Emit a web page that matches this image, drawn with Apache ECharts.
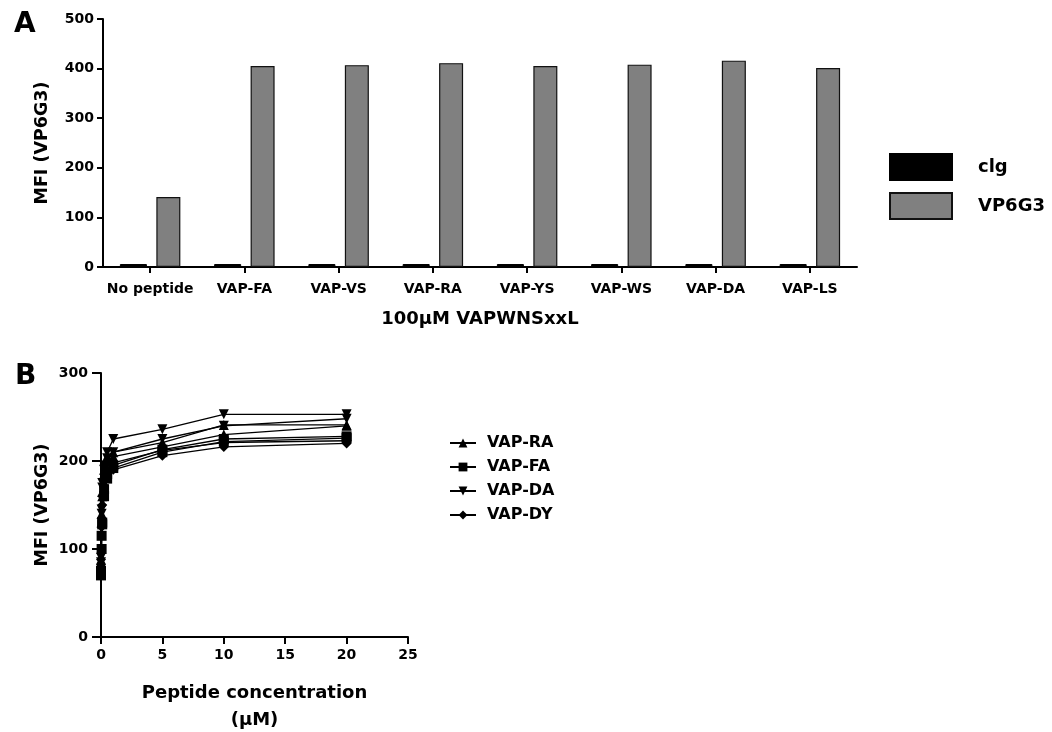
<!DOCTYPE html>
<html>
<head>
<meta charset="utf-8">
<script src="https://cdn.jsdelivr.net/npm/echarts@6/dist/echarts.min.js"></script>
<style>
html,body{margin:0;padding:0;background:#fff;}
#c{width:1052px;height:732px;}
</style>
</head>
<body>
<div id="c"></div>
<script>
// Panel A data
const categoriesA = ['No peptide','VAP-FA','VAP-VS','VAP-RA','VAP-YS','VAP-WS','VAP-DA','VAP-LS'];
const clgValues = [6, 6, 6, 6, 6, 6, 6, 6];
const vp6g3Values = [141, 405, 407, 411, 405, 408, 416, 401];
const yTicksA = [0, 100, 200, 300, 400, 500];

// Panel B data (x = peptide concentration in µM)
const concB = [0, 0.05, 0.1, 0.25, 0.5, 1, 5, 10, 20];
const vapRA_1 = [88, 140, 165, 190, 205, 210, 221, 241, 241];
const vapRA_2 = [85, 130, 160, 185, 200, 205, 216, 230, 240];
const vapFA_1 = [70, 100, 128, 168, 185, 195, 213, 225, 228];
const vapFA_2 = [75, 115, 130, 160, 180, 192, 210, 222, 226];
const vapDA_1 = [90, 145, 175, 195, 210, 225, 236, 253, 253];
const vapDA_2 = [85, 140, 170, 190, 203, 210, 225, 240, 248];
const vapDY_1 = [88, 135, 160, 180, 190, 198, 212, 221, 223];
const vapDY_2 = [82, 125, 150, 172, 185, 190, 206, 216, 220];
const yTicksB = [0, 100, 200, 300];
const xTicksB = [0, 5, 10, 15, 20, 25];

const FONT = 'DejaVu Sans';
const axisLine = {show:true, lineStyle:{color:'#000', width:2}};
const axisTick = {show:true, length:6, lineStyle:{color:'#000', width:2}};
const lbl = (size) => ({color:'#000', fontFamily:FONT, fontWeight:'bold', fontSize:size});

function pairs(xs, ys){ return xs.map((x,i)=>[x, ys[i]]); }

const lineSeries = (name, data, symbol, size, rotate) => ({
  type:'line', name, xAxisIndex:1, yAxisIndex:1,
  data: pairs(concB, data),
  symbol, symbolSize:size, symbolRotate: rotate || 0,
  showSymbol:true,
  lineStyle:{color:'#000', width:1.3},
  itemStyle:{color:'#000'},
  animation:false
});

const chart = echarts.init(document.getElementById('c'), null, {renderer:'canvas'});
chart.setOption({
  backgroundColor:'#fff',
  animation:false,
  title:[
    {text:'A', left:9, top:6, textStyle:{fontFamily:FONT, fontWeight:'bold', fontSize:28, color:'#000'}},
    {text:'B', left:10, top:358, textStyle:{fontFamily:FONT, fontWeight:'bold', fontSize:28, color:'#000'}}
  ],
  grid:[
    {left:103, top:19, width:754, height:248, outerBoundsMode:'none', containLabel:false},
    {left:101, top:373, width:307, height:264, outerBoundsMode:'none', containLabel:false}
  ],
  legend:[
    {
      data:[{name:'clg', icon:'rect'},{name:'VP6G3', icon:'rect'}], orient:'vertical', left:884, top:148,
      itemWidth:62, itemHeight:26, itemGap:11,
      textStyle:{...lbl(18), padding:[0,0,0,21]},
      selectedMode:false
    },
    {
      data:['VAP-RA','VAP-FA','VAP-DA','VAP-DY'], orient:'vertical', left:444, top:430,
      itemWidth:26, itemHeight:11, itemGap:8,
      textStyle:{...lbl(16), padding:[0,0,0,6]},
      selectedMode:false
    }
  ],
  xAxis:[
    {
      type:'category', gridIndex:0, data:categoriesA,
      axisLine, axisTick:{...axisTick, alignWithLabel:true},
      axisLabel:{...lbl(14), margin:15, interval:0},
      name:'100\u03bcM VAPWNSxxL', nameLocation:'middle', nameGap:43,
      nameTextStyle:lbl(18)
    },
    {
      type:'value', gridIndex:1, min:0, max:25, interval:5,
      axisLine, axisTick:{...axisTick, length:7}, splitLine:{show:false},
      axisLabel:{...lbl(14), margin:11},
      name:'Peptide concentration\n(\u03bcM)', nameLocation:'middle', nameGap:43,
      nameTextStyle:{...lbl(18), lineHeight:27}
    }
  ],
  yAxis:[
    {
      type:'value', gridIndex:0, min:0, max:500, interval:100,
      axisLine, axisTick, splitLine:{show:false},
      axisLabel:{...lbl(14), margin:9},
      name:'MFI (VP6G3)', nameLocation:'middle', nameGap:52,
      nameTextStyle:lbl(17.5)
    },
    {
      type:'value', gridIndex:1, min:0, max:300, interval:100,
      axisLine, axisTick:{...axisTick, length:9}, splitLine:{show:false},
      axisLabel:{...lbl(14), margin:13},
      name:'MFI (VP6G3)', nameLocation:'middle', nameGap:50,
      nameTextStyle:lbl(17.5)
    }
  ],
  series:[
    {type:'bar', name:'clg', xAxisIndex:0, yAxisIndex:0, data:clgValues,
     barWidth:27, barGap:'35%',
     itemStyle:{color:'#000', borderColor:'#000', borderWidth:1}},
    {type:'bar', name:'VP6G3', xAxisIndex:0, yAxisIndex:0, data:vp6g3Values,
     barWidth:24,
     itemStyle:{color:'#808080', borderColor:'#111', borderWidth:1.2}},
    lineSeries('VAP-DY', vapDY_1, 'diamond', 10),
    lineSeries('VAP-DY', vapDY_2, 'diamond', 10),
    lineSeries('VAP-FA', vapFA_1, 'rect', 10),
    lineSeries('VAP-FA', vapFA_2, 'rect', 10),
    lineSeries('VAP-RA', vapRA_1, 'triangle', 10),
    lineSeries('VAP-RA', vapRA_2, 'triangle', 10),
    lineSeries('VAP-DA', vapDA_1, 'triangle', 10, 180),
    lineSeries('VAP-DA', vapDA_2, 'triangle', 10, 180)
  ]
});
</script>
</body>
</html>
